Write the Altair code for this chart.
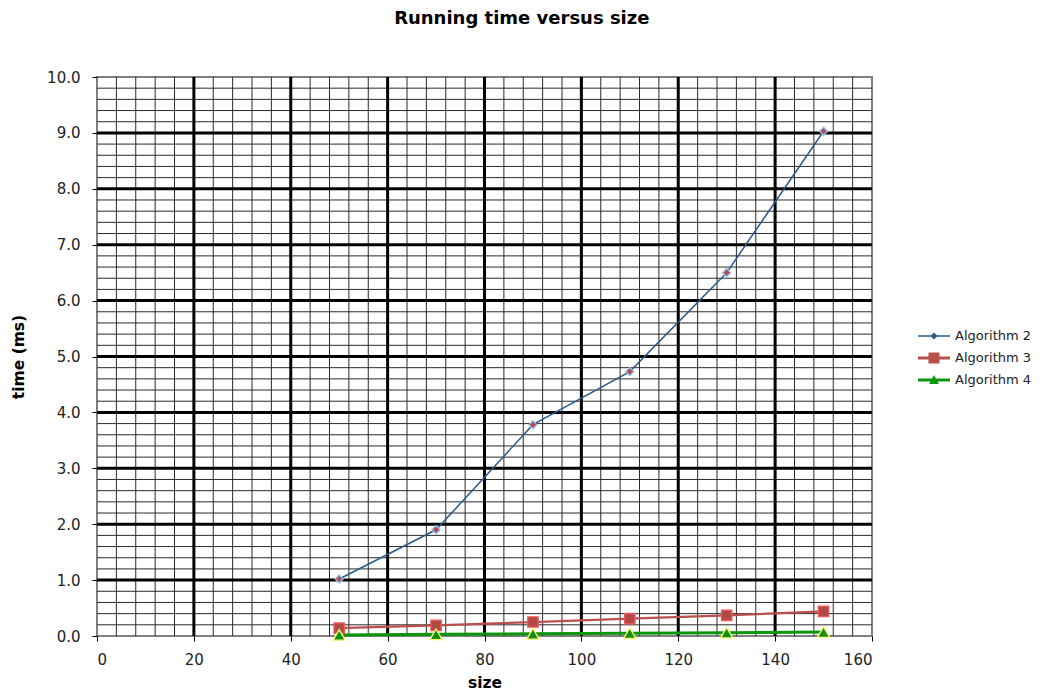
import altair as alt
import pandas as pd

sizes = [50, 70, 90, 110, 130, 150]
alg2 = [1.02, 1.90, 3.78, 4.73, 6.50, 9.03]
alg3 = [0.14, 0.19, 0.25, 0.31, 0.37, 0.44]
alg4 = [0.02, 0.03, 0.04, 0.05, 0.06, 0.07]
series_names = ["Algorithm 2", "Algorithm 3", "Algorithm 4"]

x_ticks = list(range(0, 161, 20))
y_ticks = list(range(0, 11))
x_major = list(range(20, 160, 20))
y_major = list(range(1, 10))
x_minor = list(range(4, 160, 4))
y_minor = [round(i * 0.2, 1) for i in range(1, 50)]

rows = []
for name, vals in zip(series_names, [alg2, alg3, alg4]):
    for s, v in zip(sizes, vals):
        rows.append({"size": s, "time": v, "series": name})
df = pd.DataFrame(rows)

line_colors = ["#2b5a8a", "#b8504c", "#0a960a"]
point_fills = ["#b84a48", "#b04a47", "#139013"]
point_strokes = ["#8ec0f0", "#f05a5a", "#ffff70"]
point_shapes = ["diamond", "square", "triangle-up"]
point_sizes = [65, 150, 110]
line_widths = [1.5, 3, 3]
legend_paths = [
    "M-1.6,-0.08H1.6V0.08H-1.6ZM0,-0.35L0.35,0L0,0.35L-0.35,0Z",
    "M-1.6,-0.15H1.6V0.15H-1.6ZM-0.55,-0.55H0.55V0.55H-0.55Z",
    "M-1.6,-0.15H1.6V0.15H-1.6ZM0,-0.5L0.5,0.4L-0.5,0.4Z",
]

FONT = "DejaVu Sans"
xs = alt.Scale(domain=[0, 160], nice=False, zero=True)
ys = alt.Scale(domain=[0, 10], nice=False)

vminor = alt.Chart(pd.DataFrame({"x": x_minor})).mark_rule(color="#2a2a2a", strokeWidth=1).encode(
    x=alt.X("x:Q", scale=xs)
)
hminor = alt.Chart(pd.DataFrame({"y": y_minor})).mark_rule(color="#2a2a2a", strokeWidth=1).encode(
    y=alt.Y("y:Q", scale=ys)
)
vmajor = alt.Chart(pd.DataFrame({"x": x_major})).mark_rule(color="#000000", strokeWidth=3).encode(
    x=alt.X("x:Q", scale=xs)
)
hmajor = alt.Chart(pd.DataFrame({"y": y_major})).mark_rule(color="#000000", strokeWidth=3).encode(
    y=alt.Y("y:Q", scale=ys)
)

legend_def = alt.Legend(title=None, orient="none", legendX=827, legendY=249,
                        symbolSize=400, labelFontSize=13, labelFont=FONT,
                        labelColor="#222222", rowPadding=5, labelOffset=11,
                        symbolStrokeWidth=0, padding=0)

lines = alt.Chart(df).mark_line().encode(
    x=alt.X("size:Q", scale=xs,
            axis=alt.Axis(title="size", values=x_ticks, grid=False, domain=False,
                          tickSize=5, tickColor="#000000", labelPadding=11, titlePadding=8)),
    y=alt.Y("time:Q", scale=ys,
            axis=alt.Axis(title="time (ms)", values=y_ticks, format=".1f", grid=False, domain=False,
                          tickSize=5, tickColor="#000000", labelPadding=12, titlePadding=20)),
    color=alt.Color("series:N", scale=alt.Scale(domain=series_names, range=line_colors), legend=None),
    strokeWidth=alt.StrokeWidth("series:N", scale=alt.Scale(domain=series_names, range=line_widths),
                                legend=None),
    order="size:Q",
)

points = alt.Chart(df).mark_point(filled=True, opacity=1, strokeWidth=1.3).encode(
    x=alt.X("size:Q", scale=xs),
    y=alt.Y("time:Q", scale=ys),
    fill=alt.Fill("series:N", scale=alt.Scale(domain=series_names, range=point_fills), legend=None),
    stroke=alt.Stroke("series:N", scale=alt.Scale(domain=series_names, range=point_strokes), legend=None),
    shape=alt.Shape("series:N", scale=alt.Scale(domain=series_names, range=point_shapes), legend=None),
    size=alt.Size("series:N", scale=alt.Scale(domain=series_names, range=point_sizes), legend=None),
)

legend_layer = alt.Chart(df).transform_filter(alt.datum.time < -1).mark_point(
    filled=True, size=400, opacity=1
).encode(
    x=alt.X("size:Q", scale=xs),
    y=alt.Y("time:Q", scale=ys),
    color=alt.Color("series:N", scale=alt.Scale(domain=series_names, range=line_colors), legend=legend_def),
    shape=alt.Shape("series:N", scale=alt.Scale(domain=series_names, range=legend_paths), legend=legend_def),
)

chart = alt.layer(vminor, hminor, vmajor, hmajor, lines, points, legend_layer).resolve_scale(
    shape="independent", color="independent", size="independent"
).properties(
    width=775, height=559,
    background="white",
    autosize=alt.AutoSizeParams(type="none"),
    padding={"left": 89, "top": 69, "right": 164, "bottom": 58},
    title=alt.TitleParams("Running time versus size", font=FONT, fontSize=18, fontWeight="bold",
                          frame="bounds", anchor="middle", offset=42, color="#000000"),
).configure_view(stroke="#808080", strokeWidth=2).configure_axis(
    labelFont=FONT, labelFontSize=15, labelColor="#222222",
    titleFont=FONT, titleFontSize=15.5, titleFontWeight="bold", titleColor="#000000",
)

chart.save("out.html", embed_options={"renderer": "svg", "actions": False})
